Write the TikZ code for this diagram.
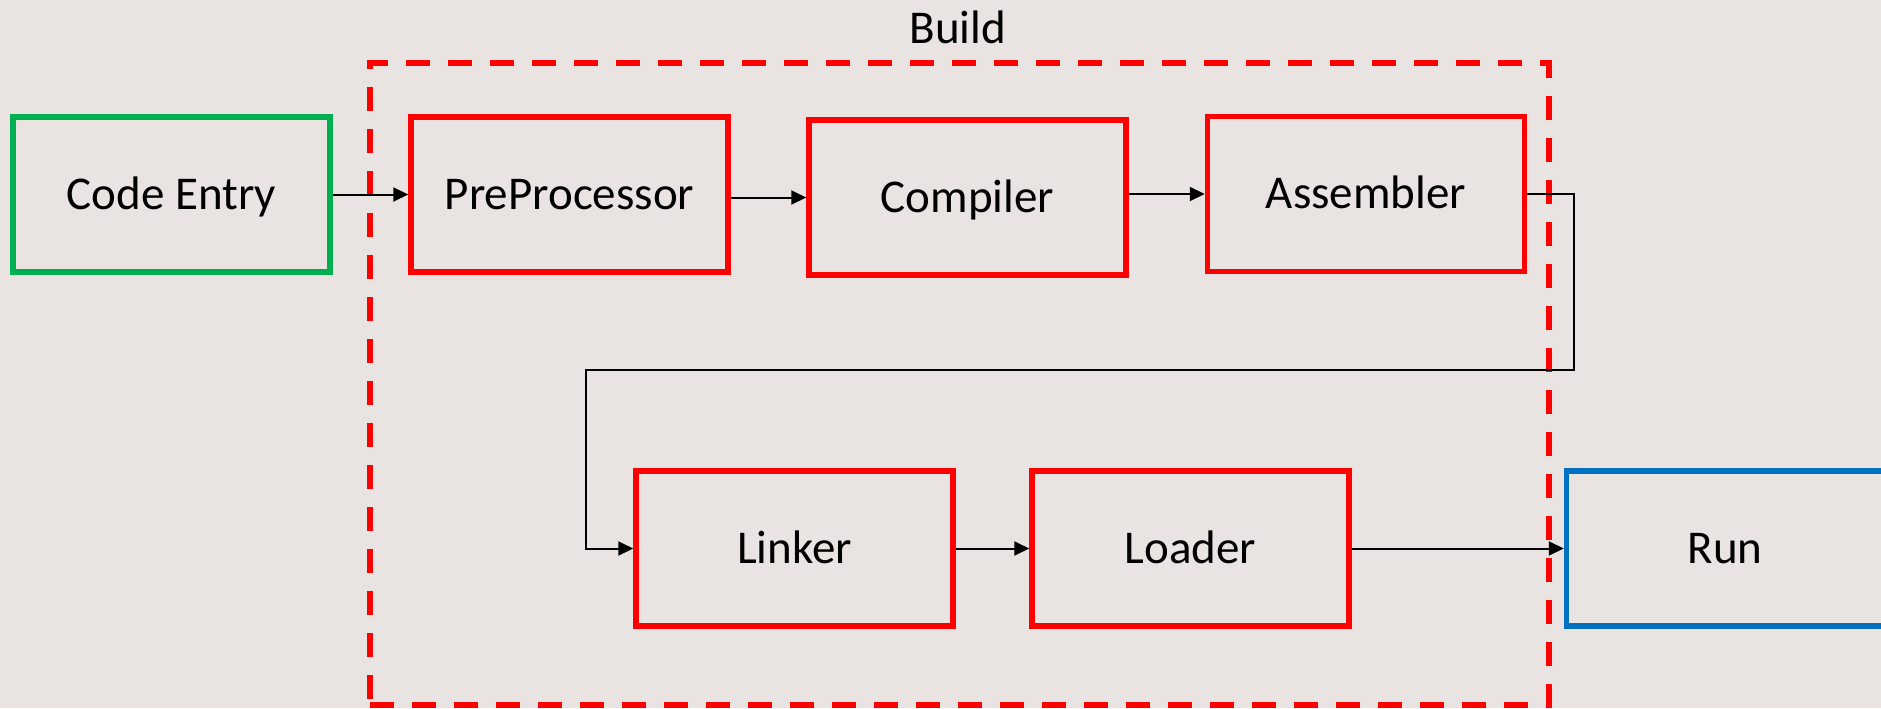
\documentclass[tikz,border=0pt]{standalone}
\usepackage{fontspec}
\setmainfont{Carlito}
\usetikzlibrary{arrows.meta}
\definecolor{bgc}{RGB}{233,227,225}
\definecolor{offred}{RGB}{255,0,0}
\definecolor{offgreen}{RGB}{0,176,80}
\definecolor{offblue}{RGB}{0,112,192}
\begin{document}
\begin{tikzpicture}[x=0.5pt,y=-0.5pt,
  blk/.style={draw, line width=2.75pt, minimum width=158.5pt, minimum height=77.5pt, inner sep=0pt,
    font=\fontsize{23.5}{28}\selectfont, text height=17pt, text depth=2.5pt},
  redblk/.style={blk, draw=offred},
  conn/.style={line width=1pt, -{Triangle[length=7.5pt,width=7pt]}},
  buildbox/.style={draw=offred, line width=2.75pt, dash pattern=on 12pt off 9pt,
    minimum width=589.5pt, minimum height=321pt, inner sep=0pt},
]
\fill[bgc] (0,0) rectangle (1881,708);
\useasboundingbox (0,0) rectangle (1881,708);
\clip (0,0) rectangle (1881,708);

\node[buildbox] (build) at (959.5,384) {};
\node[anchor=base, font=\fontsize{23.5}{28}\selectfont] (lbl) at (958,43) {Build};

\node[blk, draw=offgreen] (ce) at (171.5,194.5) {Code Entry};
\node[redblk] (pre) at (569.5,194.5) {PreProcessor};
\node[redblk] (cmp) at (967.5,197.5) {Compiler};
\node[redblk] (asm) at (1366,194) {Assembler};
\node[redblk] (lnk) at (794.5,548.5) {Linker};
\node[redblk] (ldr) at (1190.5,548.5) {Loader};
\node[blk, draw=offblue] (run) at (1725,548.5) {Run};

\coordinate (c1) at (1574,370);
\coordinate (c2) at (586,370);

\draw[conn] (ce) -- (pre);
\draw[conn] (pre.east |- cmp.west) -- (cmp.west);
\draw[conn] (cmp.east |- asm.west) -- (asm.west);
\draw[conn] (asm.east) -| (c1) -- (c2) |- (lnk.west);
\draw[conn] (lnk) -- (ldr);
\draw[conn] (ldr) -- (run);
\end{tikzpicture}
\end{document}
